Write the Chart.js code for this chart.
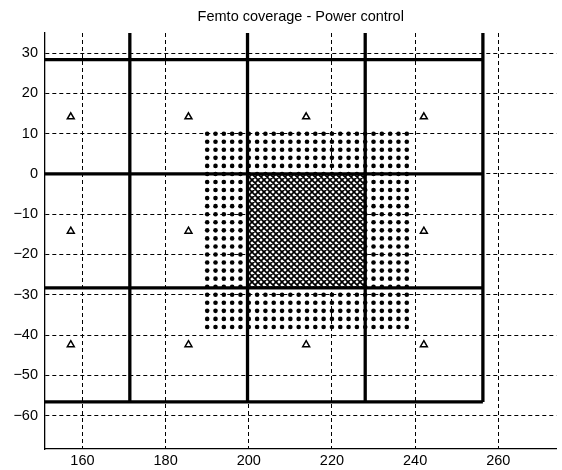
<!DOCTYPE html>
<html>
<head>
<meta charset="utf-8">
<script src="https://cdn.jsdelivr.net/npm/chart.js@4.4.0/dist/chart.umd.min.js"></script>
<style>
html, body { margin: 0; padding: 0; background: #fff; }
</style>
</head>
<body>
<canvas id="femto-chart" width="562" height="470"></canvas>
<script>
// axis limits
var xMin = 151, xMax = 274;
var yMin = -68.3, yMax = 35;

// macro cell borders (thick lines)
var cellX = [171.4, 199.7, 228, 256.3];
var cellY = [28.4, 0, -28.3, -56.6];

// macro base stations (triangles)
var bsX = [157.2, 185.5, 213.8, 242.1, 157.2, 185.5, 242.1, 157.2, 185.5, 213.8, 242.1];
var bsY = [14.2, 14.2, 14.2, 14.2, -14.2, -14.2, -14.2, -42.4, -42.4, -42.4, -42.4];

// femto grid (dots)
var femtoX = [190, 192, 194, 196, 198, 200, 202, 204, 206, 208, 210, 212, 214,
    216, 218, 220, 222, 224, 226, 228, 230, 232, 234, 236, 238];
var femtoY = [10, 8, 6, 4, 2, 0, -2, -4, -6, -8, -10, -12, -14, -16, -18,
    -20, -22, -24, -26, -28, -30, -32, -34, -36, -38];

// hatched area (power controlled cell)
var hatchX = [199.7, 228];
var hatchY = [0, -28.3];

var FONT = '"Liberation Sans", Arial, Helvetica, sans-serif';

function makeHatch() {
    var c = document.createElement('canvas');
    c.width = 6; c.height = 6;
    var g = c.getContext('2d');
    g.fillStyle = '#fff';
    g.fillRect(0, 0, 6, 6);
    g.strokeStyle = '#000';
    g.lineWidth = 1.7;
    g.beginPath();
    for (var o = -6; o <= 6; o += 6) {
        g.moveTo(o - 1, -1); g.lineTo(o + 7, 7);
        g.moveTo(o + 7, -1); g.lineTo(o - 1, 7);
    }
    g.stroke();
    return g.createPattern(c, 'repeat');
}

var dots = [];
femtoY.forEach(function (y) {
    femtoX.forEach(function (x) { dots.push({x: x, y: y}); });
});

var bs = bsX.map(function (x, i) { return {x: x, y: bsY[i]}; });

var datasets = [];

datasets.push({
    type: 'scatter',
    data: bs,
    pointStyle: 'triangle',
    pointRadius: 4,
    borderWidth: 1.5,
    borderColor: '#000',
    backgroundColor: '#fff',
    order: 0
});

var lastX = cellX[cellX.length - 1];
var lastY = cellY[cellY.length - 1];
cellX.forEach(function (x) {
    datasets.push({
        type: 'line',
        data: [{x: x, y: yMax}, {x: x, y: lastY}],
        borderColor: '#000',
        borderWidth: 3.3,
        pointRadius: 0,
        fill: false,
        order: 1
    });
});
cellY.forEach(function (y) {
    datasets.push({
        type: 'line',
        data: [{x: xMin, y: y}, {x: lastX, y: y}],
        borderColor: '#000',
        borderWidth: 3.3,
        pointRadius: 0,
        fill: false,
        order: 1
    });
});

datasets.push({
    type: 'line',
    data: [{x: hatchX[0], y: hatchY[1]}, {x: hatchX[1], y: hatchY[1]}],
    borderWidth: 0,
    pointRadius: 0,
    backgroundColor: makeHatch(),
    fill: {value: hatchY[0]},
    order: 2
});

datasets.push({
    type: 'scatter',
    data: dots,
    pointStyle: 'circle',
    pointRadius: 2.3,
    borderWidth: 0,
    backgroundColor: '#000',
    order: 3
});

function minusLabel(v) {
    return String(v).replace('-', '\u2212');
}

new Chart(document.getElementById('femto-chart'), {
    type: 'scatter',
    data: { datasets: datasets },
    options: {
        responsive: false,
        animation: false,
        layout: { padding: 0 },
        plugins: {
            legend: { display: false },
            tooltip: { enabled: false },
            title: {
                display: true,
                text: 'Femto coverage - Power control',
                color: '#000',
                fullSize: false,
                font: { family: FONT, size: 14.5, weight: 'normal' },
                padding: { top: 8.2, bottom: 7.4 }
            }
        },
        scales: {
            x: {
                type: 'linear',
                min: xMin,
                max: xMax,
                afterFit: function (s) { s.height = 21; },
                ticks: {
                    stepSize: 20,
                    includeBounds: false,
                    color: '#000',
                    padding: 3,
                    font: { family: FONT, size: 14.5 },
                    callback: minusLabel
                },
                grid: { color: '#000', lineWidth: 1, drawTicks: false },
                border: { display: true, color: '#000', width: 1.3, dash: [4, 3] }
            },
            y: {
                type: 'linear',
                min: yMin,
                max: yMax,
                afterFit: function (s) { s.width = 45; },
                ticks: {
                    stepSize: 10,
                    includeBounds: false,
                    color: '#000',
                    padding: 7,
                    font: { family: FONT, size: 14.5 },
                    callback: minusLabel
                },
                grid: { color: '#000', lineWidth: 1, drawTicks: false },
                border: { display: true, color: '#000', width: 1.3, dash: [4, 3] }
            }
        }
    }
});
</script>
</body>
</html>
